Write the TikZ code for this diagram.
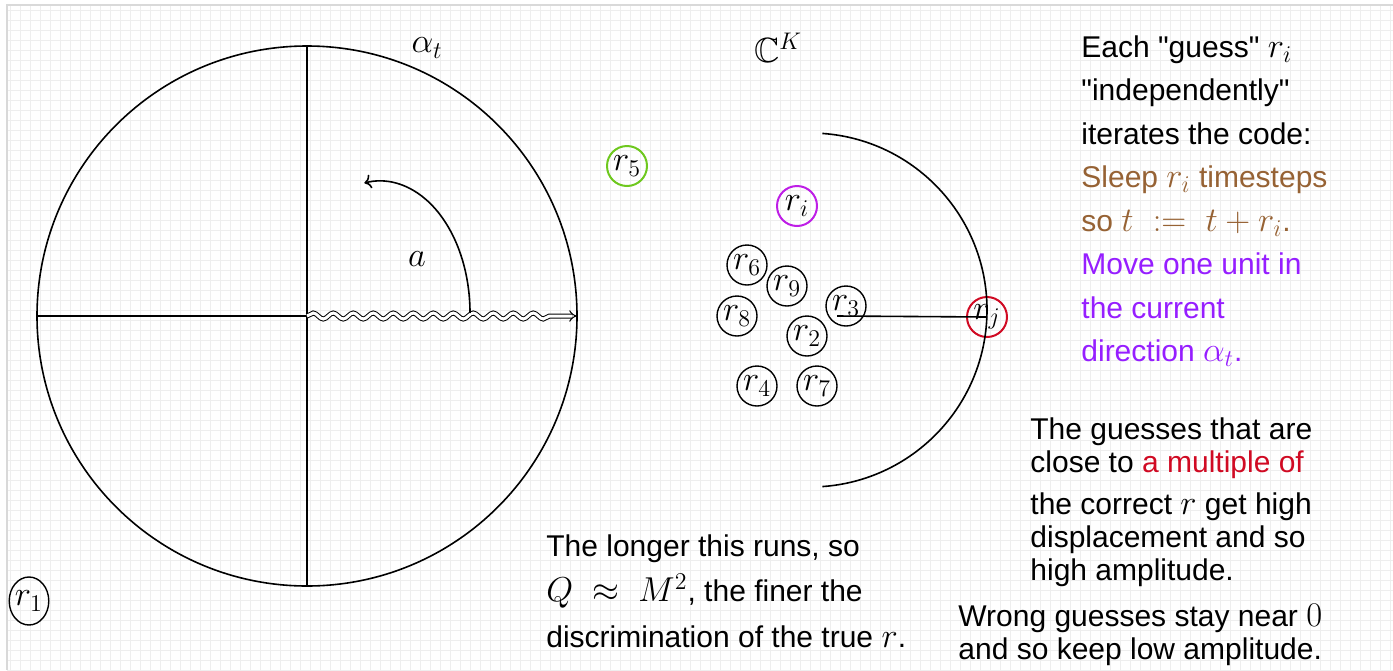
\documentclass[tikz,border=0pt]{standalone}
\usepackage{amsmath,amssymb}
\usepackage{fontspec}
\setmainfont{Liberation Sans}[Ligatures=TeXOff]
\usetikzlibrary{shapes.geometric, arrows.meta, decorations.pathmorphing, positioning}
\DeclareMathSizes{15}{17.5}{12.5}{10}

\definecolor{sleepbrown}{RGB}{150,98,52}
\definecolor{movepurple}{RGB}{150,30,255}
\definecolor{multred}{RGB}{208,10,35}
\definecolor{guessgreen}{RGB}{110,200,30}
\definecolor{guessviolet}{RGB}{190,30,230}
\definecolor{gridgray}{RGB}{238,238,238}

\begin{document}
\begin{tikzpicture}[
    x=0.5pt, y=-0.5pt,
    font=\fontsize{15}{18}\selectfont,
    guess/.style={circle, draw, line width=0.7pt, inner sep=0pt, minimum size=20pt},
    hit/.style={guess, line width=1pt},
    note/.style={anchor=north west, inner sep=0pt, align=left},
    axis/.style={line width=0.8pt}
]
\useasboundingbox (0,0) rectangle (1393,670);

% background sheet
\draw[gridgray, line width=0.4pt, step=5pt] (7,670) grid (1393,5);
\draw[black!15, line width=0.6pt] (7,670) -- (7,5) -- (1393,5);

% unit disk
\coordinate (O) at (307,316);
\draw[axis] (O) circle[radius=270];
\draw[axis] (307,46) -- (307,586);
\draw[axis] (37,316) -- (O);
\draw[line width=0.5pt, double, double distance=1.5pt, -{Implies},
      decorate, decoration={snake, amplitude=1.5pt, segment length=10pt, post length=12pt}]
      (O) -- (577,316);
\draw[axis, ->] (470,313) arc[start angle=0, end angle=-100, x radius=90, y radius=132];
\node (alabel) at (417,259) {\(a\)};
\node (alpha) at (427,48) {\(\alpha_t\)};
\node (ck) at (778,48) {\(\mathbb{C}^K\)};

% guesses
\node[ellipse, draw, line width=0.7pt, inner sep=0pt, minimum width=16pt, minimum height=24pt] (r1) at (29,601) {\(r_1\)};
\node[hit, draw=guessgreen] (r5) at (627,166) {\(r_5\)};
\node[hit, draw=guessviolet] (ri) at (797,206) {\(r_i\)};
\node[guess] (r6) at (747,265) {\(r_6\)};
\node[guess] (r9) at (787,286) {\(r_9\)};
\node[guess] (r8) at (737,316) {\(r_8\)};
\node[guess] (r3) at (846,306) {\(r_3\)};
\node[guess] (r2) at (807,336) {\(r_2\)};
\node[guess] (r4) at (757,386) {\(r_4\)};
\node[guess] (r7) at (817,386) {\(r_7\)};
\node[hit, draw=multred] (rj) at (987,317) {\(r_j\)};

\draw[axis] (810,310) ++(-86:177) arc[start angle=-86, end angle=86, radius=177];
\draw[axis] ([shift={(-9,10)}]r3.center) -- (rj.center);

% notes
\node[note, font=\fontsize{15}{21.75}\selectfont] (code) at (1081,35)
    {Each "guess" \(r_i\)\\
     "independently"\\
     iterates the code:\\
     \textcolor{sleepbrown}{Sleep \(r_i\) timesteps}\\
     \textcolor{sleepbrown}{so \(t \;:=\; t+r_i\).}\\
     \textcolor{movepurple}{Move one unit in}\\
     \textcolor{movepurple}{the current}\\
     \textcolor{movepurple}{direction \(\alpha_t\).}};
\node[note, font=\fontsize{15}{22.75}\selectfont] (longer) at (546,534)
    {The longer this runs, so\\
     \(Q \;\approx\; M^2\), the finer the\\
     discrimination of the true \(r\).};
\node[note, font=\fontsize{15}{16.5}\selectfont] (close) at (1030,417)
    {The guesses that are\\
     close to \textcolor{multred}{a multiple of}\\[4.5pt]
     the correct \(r\) get high\\
     displacement and so\\
     high amplitude.};
\node[note, font=\fontsize{15}{16.5}\selectfont] (wrong) at (958,604)
    {Wrong guesses stay near \(0\)\\
     and so keep low amplitude.};
\end{tikzpicture}
\end{document}
